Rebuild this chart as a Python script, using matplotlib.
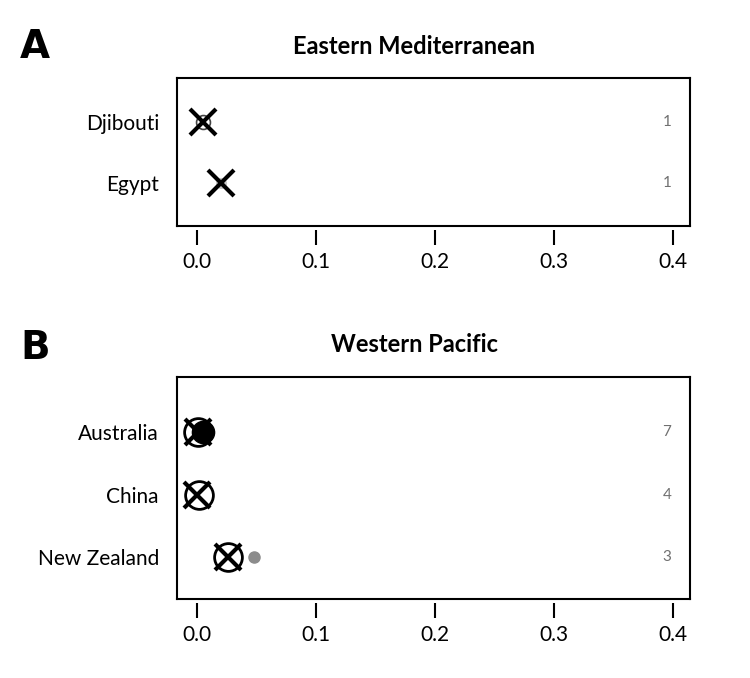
import numpy as np
import matplotlib
matplotlib.use("Agg")
import matplotlib.pyplot as plt

plt.rcParams['font.family'] = ['Lato', 'DejaVu Sans']

# Panel A: Eastern Mediterranean
countries_a = ["Djibouti", "Egypt"]
counts_a = [1, 1]
cross_a = [0.005, 0.020]
small_circle_a = [0.005, np.nan]
faint_dot_a = [np.nan, 0.020]

# Panel B: Western Pacific
countries_b = ["Australia", "China", "New Zealand"]
counts_b = [7, 4, 3]
cross_b = [0.001, 0.000, 0.026]
circle_b = [0.001, 0.002, 0.026]
dot_b = [0.005, np.nan, np.nan]
grey_b = [np.nan, np.nan, 0.048]

xticks = [0.0, 0.1, 0.2, 0.3, 0.4]

fig = plt.figure(figsize=(7.5, 6.78), dpi=100)
W, H = 750, 678

def make_ax(top, bottom):
    left, right = 177, 690
    return fig.add_axes([left / W, 1 - bottom / H, (right - left) / W, (bottom - top) / H])

def style(ax, countries, counts, ylim):
    n = len(countries)
    ys = np.arange(n, 0, -1)
    ax.set_xlim(-0.0168, 0.4143)
    ax.set_ylim(*ylim)
    ax.set_yticks(ys)
    ax.set_yticklabels(countries)
    ax.tick_params(axis='y', length=0, pad=13, labelsize=15)
    ax.set_xticks(xticks)
    ax.set_xticklabels([f"{t:.1f}" for t in xticks])
    ax.tick_params(axis='x', length=11, width=1.5, pad=5, direction='out', labelsize=15)
    for s in ['top', 'left', 'right']:
        ax.spines[s].set_linewidth(1.5)
    ax.spines['bottom'].set_position(('outward', 3))
    ax.spines['bottom'].set_visible(False)
    ax.plot([0, 1], [0, 0], transform=ax.transAxes, color='black', lw=1.5, clip_on=False)
    for y, c in zip(ys, counts):
        ax.text(0.395, y, str(c), fontsize=11, color='#707070', ha='center', va='center')
    return ys

# Panel A
axA = make_ax(78, 226)
ysA = style(axA, countries_a, counts_a, (0.29, 2.72))
axA.plot(faint_dot_a, ysA, 'o', ms=7, color='#c8c8c8', ls='none')
axA.plot(small_circle_a, ysA, 'o', ms=10, mfc='none', mec='#444444', mew=1.2, ls='none')
axA.plot(cross_a, ysA, 'x', ms=19, mew=3, color='black', ls='none')
axA.text(0.462, 1 + 32 / 148, "Eastern Mediterranean", transform=axA.transAxes,
         fontsize=17, fontweight='bold', ha='center', va='center')
fig.text(20 / W, 1 - 47 / H, "A", fontsize=28, fontweight='heavy', family='DejaVu Sans', va='center')

# Panel B
axB = make_ax(377, 599)
ysB = style(axB, countries_b, counts_b, (0.33, 3.88))
axB.plot(dot_b, ysB, 'o', ms=16, color='black', ls='none')
axB.plot(circle_b, ysB, 'o', ms=20, mfc='none', mec='black', mew=2, ls='none')
axB.plot(grey_b, ysB, 'o', ms=8, color='#8c8c8c', ls='none')
axB.plot(cross_b, ysB, 'x', ms=19, mew=3, color='black', ls='none')
axB.text(0.462, 1 + 32 / 222, "Western Pacific", transform=axB.transAxes,
         fontsize=17, fontweight='bold', ha='center', va='center')
fig.text(20 / W, 1 - 348 / H, "B", fontsize=28, fontweight='heavy', family='DejaVu Sans', va='center')

fig.savefig("out.png", dpi=100)
